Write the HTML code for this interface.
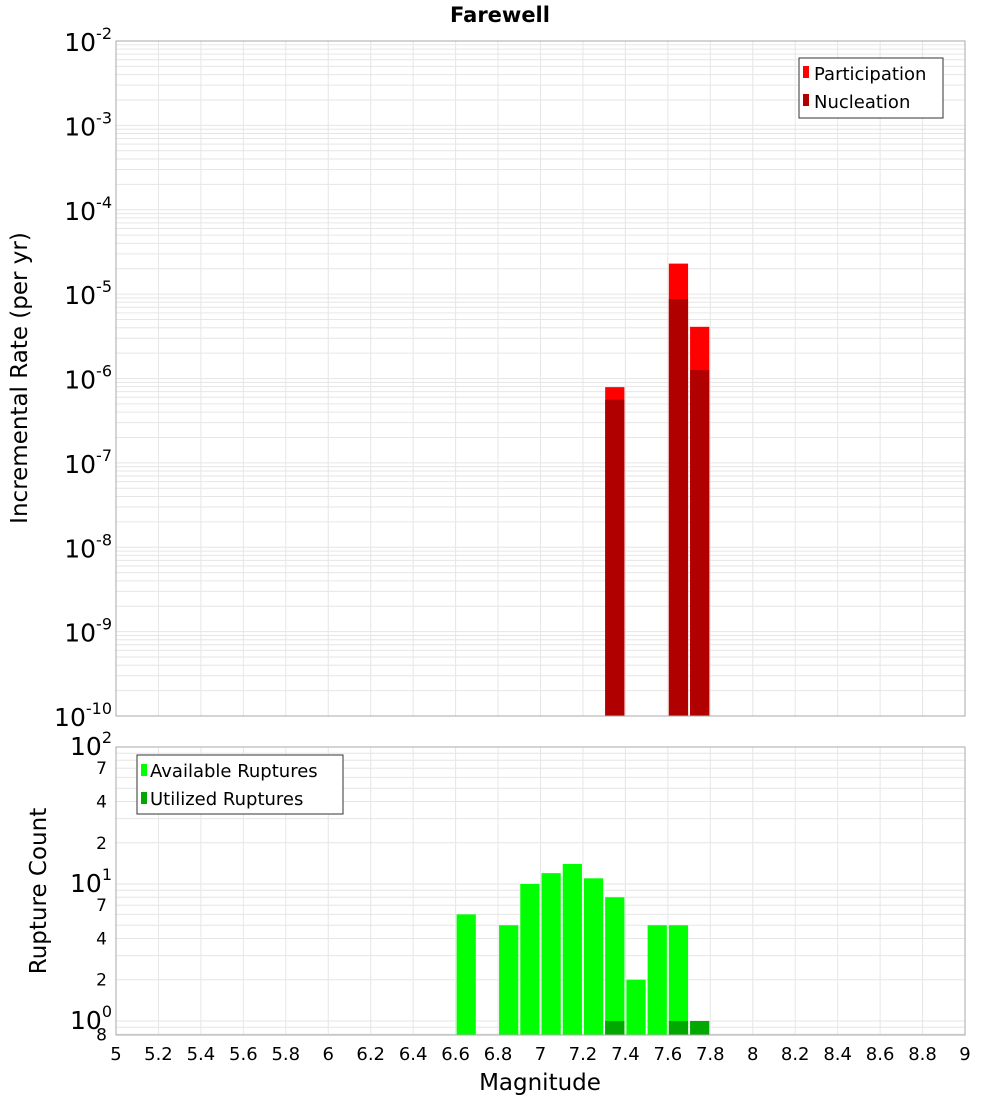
<!DOCTYPE html>
<html><head><meta charset="utf-8"><style>
body{margin:0;background:#fff;}
svg text{font-family:"DejaVu Sans","Liberation Sans",sans-serif;}
</style></head><body>
<svg id="chart" width="1000" height="1100" xmlns="http://www.w3.org/2000/svg">
<rect width="1000" height="1100" fill="#fff"/>
<text x="500" y="22" text-anchor="middle" font-size="21" font-weight="bold">Farewell</text>
<g id="topPlot"></g>
<g id="botPlot"></g>
<text transform="translate(27,378) rotate(-90)" text-anchor="middle" font-size="23">Incremental Rate (per yr)</text>
<text transform="translate(46,891) rotate(-90)" text-anchor="middle" font-size="23">Rupture Count</text>
<text x="540" y="1090" text-anchor="middle" font-size="23">Magnitude</text>
<g>
<rect x="799" y="58" width="144" height="60" fill="#fff" stroke="#333"/>
<rect x="803" y="66" width="6" height="12" fill="#ff0000"/>
<text x="814" y="80" font-size="18">Participation</text>
<rect x="803" y="94" width="6" height="12" fill="#b00000"/>
<text x="814" y="108" font-size="18">Nucleation</text>
</g>
<g>
<rect x="137" y="755" width="206" height="59" fill="#fff" stroke="#333"/>
<rect x="141" y="764" width="6" height="12" fill="#00ff00"/>
<text x="150" y="777" font-size="18">Available Ruptures</text>
<rect x="141" y="792" width="6" height="12" fill="#00a800"/>
<text x="150" y="805" font-size="18">Utilized Ruptures</text>
</g>
</svg>
<script>
const partMags=[7.35,7.65,7.75];
const partRates=[7.9e-7,2.3e-5,4.1e-6];
const nuclMags=[7.35,7.65,7.75];
const nuclRates=[5.6e-7,8.7e-6,1.26e-6];
const availMags=[6.65,6.85,6.95,7.05,7.15,7.25,7.35,7.45,7.55,7.65];
const availCounts=[6,5,10,12,14,11,8,2,5,5];
const usedMags=[7.35,7.65,7.75];
const usedCounts=[1,1,1];
const xTicks=[5,5.2,5.4,5.6,5.8,6,6.2,6.4,6.6,6.8,7,7.2,7.4,7.6,7.8,8,8.2,8.4,8.6,8.8,9];
const topExps=[-2,-3,-4,-5,-6,-7,-8,-9,-10];
const botTickVals=[100,70,40,20,10,7,4,2,1,0.8];
const botTickLabels=["10|2","7","4","2","10|1","7","4","2","10|0","8"];

const NS="http://www.w3.org/2000/svg";
const X0=116,X1=965;
const x=m=>X0+(m-5)/4*(X1-X0);
const T0=41,T1=716;
const yT=v=>T0+(-2-Math.log10(v))/8*(T1-T0);
const B0=747,B1=1035;
const yB=v=>B0+(2-Math.log10(v))/(2-Math.log10(0.79))*(B1-B0);
function mk(p,tag,a){const e=document.createElementNS(NS,tag);for(const k in a)e.setAttribute(k,a[k]);p.appendChild(e);return e;}
const gTop=document.getElementById('topPlot'),gBot=document.getElementById('botPlot');

function grid(g,ya,yb,hlines){
  for(const v of hlines){const l=mk(g,'line',{x1:X0,x2:X1,y1:v,y2:v,stroke:'#e6e6e6','stroke-width':1});
    
    }
  for(const t of xTicks){const l=mk(g,'line',{x1:x(t),x2:x(t),y1:ya,y2:yb,stroke:'#e6e6e6','stroke-width':1});
    
    }
}
let th=[];for(let e=-10;e<-2;e++)for(let k=1;k<10;k++)th.push(yT(k*Math.pow(10,e)));
grid(gTop,T0,T1,th);
let bh=[];for(let e=-1;e<2;e++)for(let k=1;k<10;k++){const v=k*Math.pow(10,e);if(v>=0.79)bh.push(yB(v));}
grid(gBot,B0,B1,bh);

function bars(g,mags,vals,yf,base,color,name){
  mags.forEach((m,i)=>{const y=yf(vals[i]);const r=mk(g,'rect',{x:x(m-0.05)+1,y:y,width:x(m+0.05)-x(m-0.05)-2,height:base-y,fill:color});
    
    });
}
bars(gTop,partMags,partRates,yT,T1,'#ff0000','bar-participation');
bars(gTop,nuclMags,nuclRates,yT,T1,'#b00000','bar-nucleation');
bars(gBot,availMags,availCounts,yB,B1,'#00ff00','bar-available');
bars(gBot,usedMags,usedCounts,yB,B1,'#00a800','bar-utilized');

const f1=mk(gTop,'rect',{x:X0,y:T0,width:X1-X0,height:T1-T0,fill:'none',stroke:'#aaa'});


const f2=mk(gBot,'rect',{x:X0,y:B0,width:X1-X0,height:B1-B0,fill:'none',stroke:'#aaa'});



topExps.forEach(e=>{const y=yT(Math.pow(10,e));
  const t=mk(gTop,'text',{x:112,y:y+10,'text-anchor':'end','font-size':25});
  
  
  t.textContent='10';
  const s=mk(t,'tspan',{dy:-12,'font-size':16});s.textContent=String(e);});
botTickVals.forEach((v,i)=>{const y=yB(v);const lab=botTickLabels[i];
  const isP=lab.includes('|');
  const t=mk(gBot,'text',{x:isP?112:107,y:y+6,'text-anchor':'end','font-size':isP?25:17});
  
  
  if(isP){const [b,ex]=lab.split('|');t.setAttribute('y',y+8);t.textContent=b;const s=mk(t,'tspan',{dy:-12,'font-size':16});s.textContent=ex;}
  else t.textContent=lab;});
xTicks.forEach(m=>{const t=mk(gBot,'text',{x:x(m),y:1060,'text-anchor':'middle','font-size':18});
  
  
  t.textContent=String(m);});
</script>
</body></html>
